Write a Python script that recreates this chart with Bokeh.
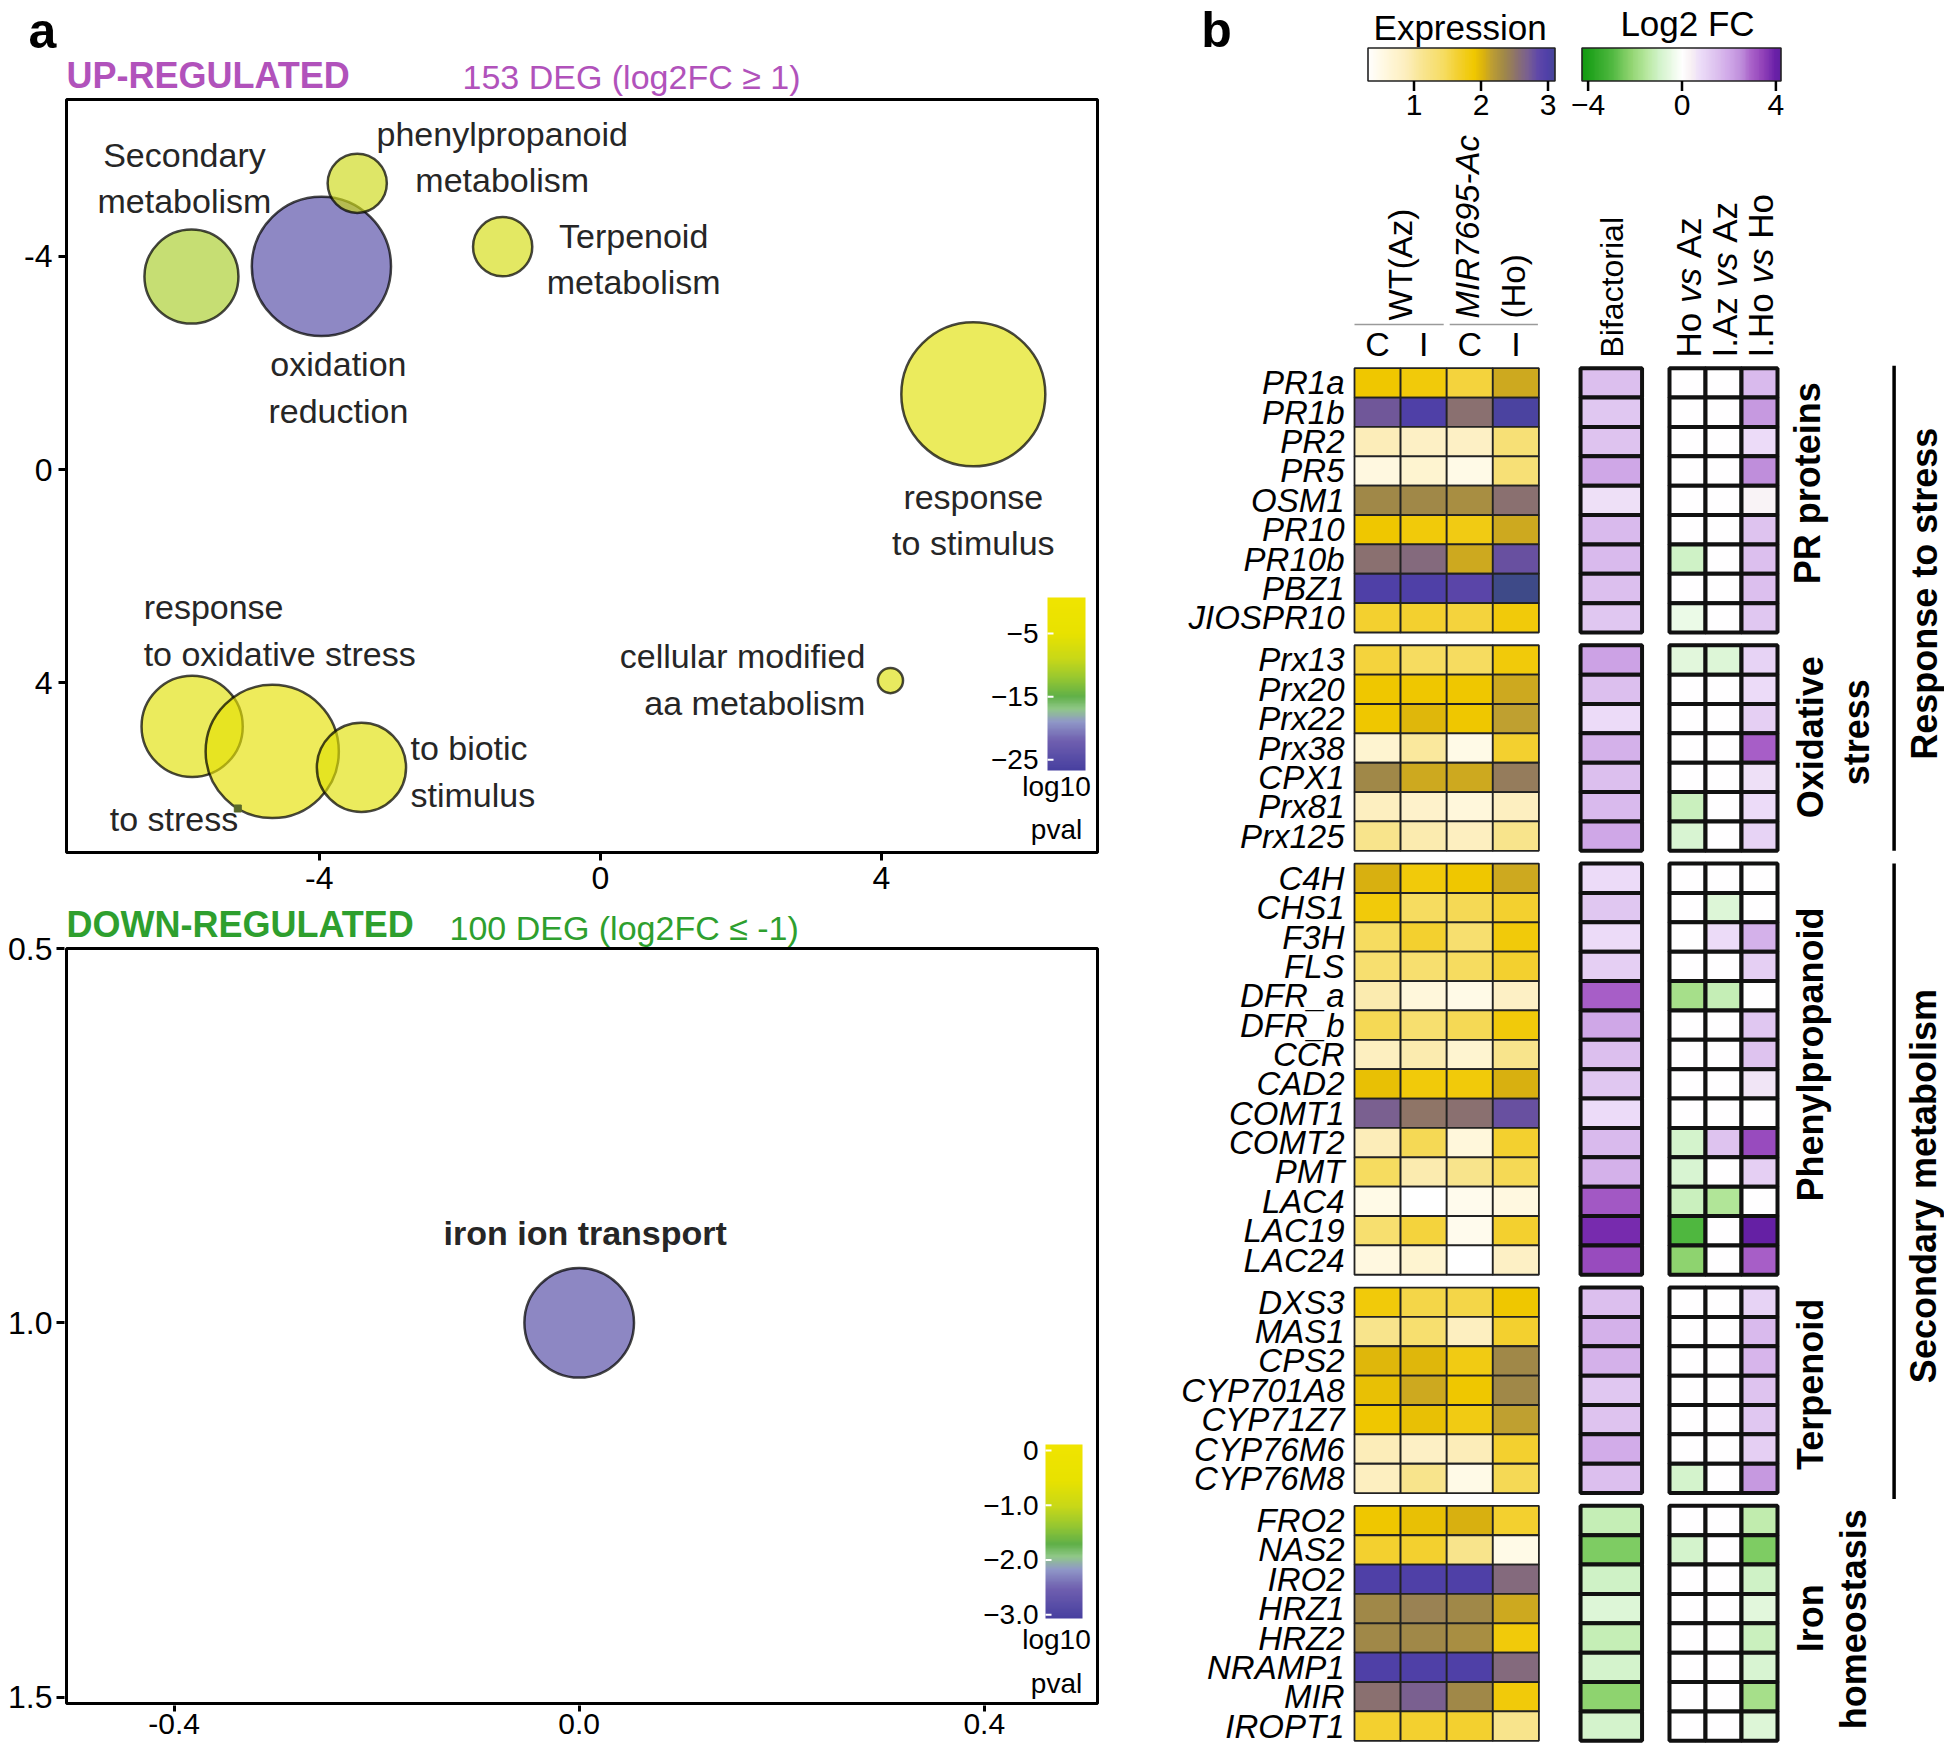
import numpy as np
from bokeh.plotting import figure
from bokeh.layouts import row, column
from bokeh.models import Range1d, FactorRange, FixedTicker, ColumnDataSource, LinearColorMapper
from bokeh.core.properties import value
from bokeh.embed import file_html
from bokeh.resources import INLINE

FONT = "Liberation Sans"
FV = value(FONT)
PI2 = np.pi / 2

# ======================= DATA =======================
# Panel a, up-regulated GO terms (REVIGO semantic space)
up_terms = ["Secondary\nmetabolism", "oxidation\nreduction", "phenylpropanoid\nmetabolism",
            "Terpenoid\nmetabolism", "response\nto stimulus", "cellular modified\naa metabolism",
            "response\nto oxidative stress", "to stress", "to biotic\nstimulus"]
up_x = [-5.82, -3.97, -3.46, -1.39, 5.31, 4.13, -5.81, -4.67, -3.40]
up_y = [-3.62, -3.81, -5.37, -4.18, -1.41, 3.96, 4.82, 5.29, 5.59]
up_log_size = [2.35, 3.48, 1.48, 1.48, 3.60, 0.63, 2.53, 3.33, 2.23]
up_log10_pval = [-11.0, -25.5, -8.5, -7.5, -6.0, -6.5, -6.0, -5.5, -6.0]
minor_x = [-5.16]
minor_y = [6.36]

# Panel a, down-regulated GO terms
down_terms = ["iron ion transport"]
down_x = [0.0]
down_y = [1.0]
down_log_size = [2.74]
down_log10_pval = [-2.95]

up_ticks = [-4, 0, 4]
up_tick_labels = ["-4", "0", "4"]
down_x_ticks = [-0.4, 0.0, 0.4]
down_x_labels = ["-0.4", "0.0", "0.4"]
down_y_ticks = [0.5, 1.0, 1.5]
down_y_labels = ["0.5", "1.0", "1.5"]
up_cb_ticks = [-5, -15, -25]
up_cb_labels = ["\u22125", "\u221215", "\u221225"]
down_cb_ticks = [0, -1, -2, -3]
down_cb_labels = ["0", "\u22121.0", "\u22122.0", "\u22123.0"]

# Panel b, heatmap
groups = ["PR proteins"] * 9 + ["Oxidative stress"] * 7 + ["Phenylpropanoid"] * 14 + \
         ["Terpenoid"] * 7 + ["Iron homeostasis"] * 8
genes = ["PR1a", "PR1b", "PR2", "PR5", "OSM1", "PR10", "PR10b", "PBZ1", "JIOSPR10",
         "Prx13", "Prx20", "Prx22", "Prx38", "CPX1", "Prx81", "Prx125",
         "C4H", "CHS1", "F3H", "FLS", "DFR_a", "DFR_b", "CCR", "CAD2", "COMT1", "COMT2", "PMT",
         "LAC4", "LAC19", "LAC24",
         "DXS3", "MAS1", "CPS2", "CYP701A8", "CYP71Z7", "CYP76M6", "CYP76M8",
         "FRO2", "NAS2", "IRO2", "HRZ1", "HRZ2", "NRAMP1", "MIR", "IROPT1"]
expr_C_Az = [1.9, 2.75, 0.9, 0.55, 2.35, 1.9, 2.55, 3.0, 1.65,
             1.6, 1.9, 1.9, 0.7, 2.35, 0.85, 1.15,
             2.05, 1.85, 1.45, 1.35, 0.95, 1.5, 0.85, 1.95, 2.7, 0.9, 1.45, 0.5, 1.35, 0.55,
             1.85, 1.15, 2.0, 1.95, 1.9, 0.9, 0.85,
             1.9, 1.65, 3.0, 2.35, 2.35, 3.0, 2.55, 1.65]
expr_I_Az = [1.85, 3.0, 0.8, 0.7, 2.35, 1.85, 2.6, 3.0, 1.65,
             1.45, 1.9, 2.0, 1.05, 2.1, 0.75, 0.95,
             1.85, 1.45, 1.65, 1.35, 0.6, 1.35, 0.95, 1.85, 2.5, 1.5, 0.95, 0.3, 1.6, 0.7,
             1.55, 1.35, 2.0, 2.1, 1.95, 0.8, 1.15,
             1.95, 1.65, 3.0, 2.4, 2.35, 3.0, 2.7, 1.65]
expr_C_Ho = [1.6, 2.55, 0.8, 0.5, 2.3, 1.8, 2.1, 2.9, 1.6,
             1.45, 1.9, 1.9, 0.5, 2.1, 0.6, 0.85,
             1.9, 1.5, 1.35, 1.45, 0.5, 1.5, 0.7, 1.85, 2.55, 0.6, 1.15, 0.45, 0.45, 0.3,
             1.55, 0.85, 1.8, 1.9, 1.8, 0.9, 0.5,
             2.05, 1.15, 3.0, 2.35, 2.3, 3.0, 2.35, 1.65]
expr_I_Ho = [2.1, 3.05, 1.3, 1.3, 2.55, 2.1, 2.8, 3.2, 1.85,
             1.85, 2.1, 2.15, 1.65, 2.45, 0.85, 1.15,
             2.1, 1.65, 1.85, 1.65, 0.8, 1.85, 1.15, 2.05, 2.8, 1.65, 1.5, 0.55, 1.65, 0.8,
             1.9, 1.65, 2.35, 2.35, 2.15, 1.65, 1.5,
             1.65, 0.5, 2.6, 2.1, 1.85, 2.6, 1.85, 1.15]
fc_bifactorial = [1.5, 1.3, 1.4, 2.0, 0.7, 1.6, 1.6, 1.5, 1.3,
                  2.1, 1.5, 0.8, 1.8, 1.5, 1.6, 2.0,
                  0.8, 1.3, 0.8, 1.1, 3.0, 2.0, 1.5, 1.3, 0.8, 1.6, 1.8, 3.1, 3.8, 3.3,
                  1.5, 1.8, 1.8, 1.3, 1.4, 1.9, 1.5,
                  -1.2, -2.4, -1.0, -0.7, -1.2, -0.9, -2.2, -0.9]
fc_Ho_vs_Az = [0, 0, 0, 0, 0, 0, -1.0, 0, -0.4,
               -0.6, 0, 0, 0, 0, -1.1, -0.8,
               0, 0, 0, 0, -1.8, 0, 0, 0, 0, -0.9, -0.8, -1.1, -3.0, -2.2,
               0, 0, 0, 0, 0, 0, -0.9,
               0, -0.9, 0, 0, 0, 0, 0, 0]
fc_IAz_vs_Az = [0, 0, 0, 0, 0, 0, 0, 0, 0,
                -0.7, 0, 0, 0, 0, 0, 0,
                0, -0.7, 0.8, 0, -1.2, 0, 0, 0, 0, 1.4, 0, -1.6, 0, 0,
                0, 0, 0, 0, 0, 0, 0,
                0, 0, 0, 0, 0, 0, 0, 0]
fc_IHo_vs_Ho = [1.6, 2.3, 0.8, 2.5, 0.3, 1.4, 1.5, 1.5, 1.3,
                1.0, 0.8, 1.1, 3.0, 0.7, 0.8, 1.0,
                0, 0, 1.8, 1.1, 0, 1.3, 1.4, 0.6, 0, 3.3, 1.1, 0, 4.1, 3.0,
                1.0, 1.6, 1.7, 1.4, 1.3, 1.1, 2.3,
                -1.3, -2.4, -1.0, -0.6, -1.1, -0.8, -1.8, -0.7]
expr_ticks = [1, 2, 3]
fc_ticks = [-4, 0, 4]
fc_tick_labels = ["\u22124", "0", "4"]

# ======================= COLOUR SCALES =======================
def hex2rgb(h):
    h = h.lstrip("#")
    return [int(h[i:i + 2], 16) for i in (0, 2, 4)]


def build_palette(vals, cols, lo, hi, n=256):
    rgb = np.array([hex2rgb(c) for c in cols], float)
    out = []
    for v in np.linspace(lo, hi, n):
        r, g, b = (np.interp(v, vals, rgb[:, k]) for k in range(3))
        out.append("#%02x%02x%02x" % (int(round(r)), int(round(g)), int(round(b))))
    return out


PV_FR = [0.0, 0.1715, 0.281, 0.354, 0.427, 0.5365, 0.646, 0.792, 1.0]
PV_COL = ["#4840a0", "#7060b0", "#9098c8", "#90c888", "#60b048", "#98c830", "#c8d818", "#e8e200", "#f0e400"]

UP_VMIN, UP_VMAX = -26.7, 0.7
DN_VMIN, DN_VMAX = -3.07, 0.11
up_mapper = LinearColorMapper(palette=build_palette(PV_FR, PV_COL, 0, 1), low=UP_VMIN, high=UP_VMAX)
dn_mapper = LinearColorMapper(palette=build_palette(PV_FR, PV_COL, 0, 1), low=DN_VMIN, high=DN_VMAX)

EX_V = [0.30, 0.55, 0.85, 1.15, 1.45, 1.65, 1.90, 2.05, 2.15, 2.35, 2.55, 2.70, 2.85, 3.00, 3.20]
EX_C = ["#ffffff", "#fff8e0", "#fdefc0", "#f8e48c", "#f6dc60", "#f3d030", "#f0c800", "#d8b010",
        "#c0a030", "#a08848", "#8a7070", "#7a6090", "#6048a8", "#5040a8", "#3e4a88"]
expr_mapper = LinearColorMapper(palette=build_palette(EX_V, EX_C, 0.3, 3.2), low=0.3, high=3.2)

FC_V = [-4.26, -3.0, -2.2, -1.5, -1.0, -0.4, 0.0, 0.4, 0.8, 1.5, 2.0, 2.5, 3.0, 3.5, 4.0, 4.26]
FC_C = ["#109a10", "#50b840", "#90d470", "#b8e8a0", "#d0f2c8", "#ecfae8", "#ffffff", "#f8f0f4",
        "#ecdcf8", "#dcc0ee", "#d0a8e8", "#c090dc", "#a860c8", "#9040b8", "#6a20a8", "#6020a0"]
fc_mapper = LinearColorMapper(palette=build_palette(FC_V, FC_C, -4.26, 4.26), low=-4.26, high=4.26)

# ======================= helpers =======================
def blank_fig(w, h, x0, x1, y_top, y_bot):
    f = figure(width=w, height=h, x_range=Range1d(x0, x1), y_range=Range1d(y_bot, y_top),
               output_backend="svg", toolbar_location=None, min_border=0,
               x_axis_type=None, y_axis_type=None)
    f.outline_line_color = None
    f.grid.visible = False
    f.frame_align = False
    return f


def style_axes(p, xt, xl, yt, yl, xfs, yfs, tick_out, standoff):
    p.frame_align = False
    p.xaxis.ticker = FixedTicker(ticks=xt)
    p.xaxis.major_label_overrides = dict(zip(xt, xl))
    p.yaxis.ticker = FixedTicker(ticks=yt)
    p.yaxis.major_label_overrides = dict(zip(yt, yl))
    for ax, fs in ((p.xaxis, xfs), (p.yaxis, yfs)):
        ax.axis_line_color = None
        ax.major_tick_line_width = 3
        ax.major_tick_line_color = "black"
        ax.major_tick_out = tick_out
        ax.major_tick_in = 0
        ax.minor_tick_line_color = None
        ax.major_label_text_font = FONT
        ax.major_label_text_font_size = fs
        ax.major_label_text_color = "black"
        ax.major_label_standoff = standoff
    p.grid.visible = False
    p.outline_line_color = "black"
    p.outline_line_width = 3


def vertical_colorbar(p, mapper, vmin, vmax, fw, fh, top_px, bot_px, x0_px, x1_px,
                      ticks, labels, lab_right_px, title_cx, title_cy_px):
    per = (vmax - vmin) / (bot_px - top_px)
    p.extra_y_ranges = {"cb": Range1d(start=vmin - (fh - bot_px) * per, end=vmax + top_px * per)}
    p.extra_x_ranges = {"cbx": Range1d(start=0, end=fw)}
    vals = np.linspace(vmin, vmax, 200)
    p.image(image=[vals.reshape(-1, 1)], x=x0_px, y=vmin, dw=x1_px - x0_px, dh=vmax - vmin,
            color_mapper=mapper, x_range_name="cbx", y_range_name="cb")
    p.segment(x0=x0_px, x1=x0_px + 6, y0=ticks, y1=ticks, line_color="white", line_width=2,
              x_range_name="cbx", y_range_name="cb")
    p.text(x=lab_right_px, y=ticks, text=labels, text_align="right", text_baseline="middle",
           text_font=FV, text_font_size="28px", text_color="black",
           x_range_name="cbx", y_range_name="cb")
    p.text(x=[title_cx], y=[vmax - (title_cy_px - top_px) * per], text=["log10\npval"],
           text_align="center", text_baseline="middle", text_line_height=1.4,
           text_font=FV, text_font_size="28px", text_color="black",
           x_range_name="cbx", y_range_name="cb")


# ======================= PANEL A titles (top) =======================
LW = 1102
t1 = blank_fig(LW, 96, 0, LW, 0, 96)
t1.text(x=[42], y=[30], text=["a"], text_align="center", text_baseline="middle",
        text_font=FV, text_font_size="50px", text_font_style="bold", text_color="black")
t1.text(x=[66], y=[74.6], text=["UP-REGULATED"], text_align="left", text_baseline="middle",
        text_font=FV, text_font_size="36px", text_font_style="bold", text_color="#b152bb")
t1.text(x=[462], y=[76], text=["153 DEG (log2FC \u2265 1)"], text_align="left",
        text_baseline="middle", text_font=FV, text_font_size="34px", text_color="#b152bb")

# ======================= PANEL A (top) =======================
# calibration: x 0 at px 599.8, 70.25 px/unit ; y 0 at px 469, 53.3 px/unit
def ax_x(px):
    return (px - 599.8) / 70.25


def ax_y(py):
    return (py - 469.0) / 53.3


p1 = figure(width=LW, height=808, x_range=Range1d(ax_x(66), ax_x(1097)),
            y_range=Range1d(ax_y(852), ax_y(99)), output_backend="svg", toolbar_location=None,
            min_border_left=66, min_border_right=5, min_border_top=3, min_border_bottom=52)
style_axes(p1, up_ticks, up_tick_labels, up_ticks, up_tick_labels, "32px", "32px", 8, 6)

src_up = ColumnDataSource(dict(x=up_x, y=up_y, d=[40 * s for s in up_log_size], pv=up_log10_pval))
p1.scatter("x", "y", size="d", source=src_up, fill_color={"field": "pv", "transform": up_mapper},
           fill_alpha=0.65, line_color="black", line_alpha=0.72, line_width=2.5)
p1.scatter(minor_x, minor_y, marker="square", size=7, color="#5a6a2a")

up_dx = [-7, 17, 145, 131, 0, -25, -48.5, -162.5, 49]
up_dy = [-98.5, 121, -26, 12, 125.5, -1, -96, 68, 4]
up_al = ["center", "center", "center", "center", "center", "right", "left", "left", "left"]
for al in ("center", "right", "left"):
    idx = [i for i, a in enumerate(up_al) if a == al]
    p1.text(x=[up_x[i] for i in idx], y=[up_y[i] for i in idx], text=[up_terms[i] for i in idx],
            x_offset=[up_dx[i] for i in idx], y_offset=[up_dy[i] for i in idx],
            text_align=al, text_baseline="middle", text_line_height=1.22,
            text_font=FV, text_font_size="34px", text_color="#262626")

vertical_colorbar(p1, up_mapper, UP_VMIN, UP_VMAX, 1031, 753, 498, 671, 981, 1019,
                  up_cb_ticks, up_cb_labels, 972, 990, 708.5)

# ======================= PANEL A (bottom, titles inside the extended frame) =======================
def bx(px):
    return (px - 578.7) / 1012.7


def by(py):
    return 0.5 + (py - 948.0) / 748.7


P2_TOP, P2_FB, P2_L, P2_R = 904, 1705, 64, 1099
p2 = figure(width=LW, height=841, x_range=Range1d(bx(P2_L), bx(P2_R)),
            y_range=Range1d(by(P2_FB), by(P2_TOP)), output_backend="svg", toolbar_location=None,
            min_border_left=P2_L, min_border_right=LW - P2_R, min_border_top=0, min_border_bottom=40)
style_axes(p2, down_x_ticks, down_x_labels, down_y_ticks, down_y_labels, "30px", "32px", 6, 2)
p2.yaxis.major_tick_out = 8
p2.yaxis.major_label_standoff = 4
p2.outline_line_color = None
# axes box of the down-regulated panel
p2.rect(x=[(bx(66) + bx(1097)) / 2], y=[(by(948) + by(1703)) / 2], width=bx(1097) - bx(66),
        height=by(1703) - by(948), fill_color=None, line_color="black", line_width=3)

src_dn = ColumnDataSource(dict(x=down_x, y=down_y, d=[40 * s for s in down_log_size], pv=down_log10_pval))
p2.scatter("x", "y", size="d", source=src_dn, fill_color={"field": "pv", "transform": dn_mapper},
           fill_alpha=0.65, line_color="black", line_alpha=0.72, line_width=2.5)
p2.text(x=down_x, y=down_y, text=down_terms, x_offset=6, y_offset=-90, text_align="center",
        text_baseline="middle", text_font=FV, text_font_size="34px", text_font_style="bold",
        text_color="#262626")
vertical_colorbar(p2, dn_mapper, DN_VMIN, DN_VMAX, P2_R - P2_L, P2_FB - P2_TOP,
                  1444 - P2_TOP, 1618 - P2_TOP, 1045 - P2_L, 1082 - P2_L,
                  down_cb_ticks, down_cb_labels, 1038 - P2_L, 1056 - P2_L, 1661 - P2_TOP)
p2.text(x=[bx(66)], y=[by(924)], text=["DOWN-REGULATED"], text_align="left", text_baseline="middle",
        text_font=FV, text_font_size="36px", text_font_style="bold", text_color="#2e9f2e")
p2.text(x=[bx(449)], y=[by(927)], text=["100 DEG (log2FC \u2264 -1)"], text_align="left",
        text_baseline="middle", text_font=FV, text_font_size="34px", text_color="#2e9f2e")

# ======================= PANEL B =======================
PB_X0, PB_X1 = 1102, 1944
HDR_H, HEAT_H = 363, 1382
EXPR_X0, EXPR_W = 1354.0, 46.1
BIF_XC, BIF_W = 1610.8, 61.5
CMP_X0, CMP_W = 1669.0, 36.0
GP, PAD = 0.435, 0.16

# ---- header ----
hdr = blank_fig(PB_X1 - PB_X0, HDR_H, PB_X0, PB_X1, 0, HDR_H)

EX_T1, EX_T3 = 1413.5, 1547.5
ex_pp = (EX_T3 - EX_T1) / 2.0
FC_T0, FC_T1 = 1587.6, 1775.4
fc_pp = (FC_T1 - FC_T0) / 8.0
hdr.extra_x_ranges = {
    "expr": Range1d(1 - (EX_T1 - PB_X0) / ex_pp, 1 + (PB_X1 - EX_T1) / ex_pp),
    "fc": Range1d(-4 - (FC_T0 - PB_X0) / fc_pp, -4 + (PB_X1 - FC_T0) / fc_pp),
}
BAR_Y, BAR_H = 64.0, 33.0
for rname, mapper, lo, hi, ticks, labels in (
        ("expr", expr_mapper, 1 + (1367.5 - EX_T1) / ex_pp, 1 + (1554.5 - EX_T1) / ex_pp,
         expr_ticks, [str(t) for t in expr_ticks]),
        ("fc", fc_mapper, -4 + (1581.5 - FC_T0) / fc_pp, -4 + (1780.5 - FC_T0) / fc_pp,
         fc_ticks, fc_tick_labels)):
    vals = np.linspace(lo, hi, 240)
    hdr.image(image=[vals.reshape(1, -1)], x=lo, y=BAR_Y - BAR_H / 2, dw=hi - lo, dh=BAR_H,
              color_mapper=mapper, x_range_name=rname)
    hdr.rect(x=[(lo + hi) / 2], y=[BAR_Y], width=hi - lo, height=BAR_H, fill_color=None,
             line_color="#222222", line_width=1.6, x_range_name=rname)
    hdr.segment(x0=ticks, x1=ticks, y0=BAR_Y + BAR_H / 2, y1=BAR_Y + BAR_H / 2 + 10,
                line_color="black", line_width=2.5, x_range_name=rname)
    hdr.text(x=ticks, y=104, text=labels, text_align="center", text_baseline="middle",
             text_font=FV, text_font_size="30px", text_color="black", x_range_name=rname)

hdr.text(x=[1216], y=[29], text=["b"], text_align="center", text_baseline="middle",
         text_font=FV, text_font_size="50px", text_font_style="bold", text_color="black")
hdr.text(x=[1459.6, 1687], y=[26.7, 22.7], text=["Expression", "Log2 FC"], text_align="center",
         text_baseline="middle", text_font=FV, text_font_size="35px", text_color="black")

expr_cols = ["C", "I", "C", "I"]
ex_xc = [EXPR_X0 + EXPR_W * (j + 0.5) for j in range(4)]
hdr.text(x=ex_xc, y=343.5, text=expr_cols, text_align="center", text_baseline="middle",
         text_font=FV, text_font_size="34px", text_color="black")
hdr.segment(x0=[EXPR_X0, EXPR_X0 + 2 * EXPR_W + 3], x1=[EXPR_X0 + 2 * EXPR_W - 3, EXPR_X0 + 4 * EXPR_W - 1],
            y0=324, y1=324, line_color="#9a9a9a", line_width=1.6)
hdr.text(x=[(ex_xc[0] + ex_xc[1]) / 2], y=[320], text=["WT(Az)"], angle=PI2, text_align="left",
         text_baseline="middle", text_font=FV, text_font_size="33px", text_color="black")
hdr.text(x=[1467], y=[318], text=["MIR7695-Ac"], angle=PI2, text_align="left",
         text_baseline="middle", text_font=FV, text_font_size="33px", text_font_style="italic",
         text_color="black")
hdr.text(x=[1513], y=[318], text=["(Ho)"], angle=PI2, text_align="left",
         text_baseline="middle", text_font=FV, text_font_size="33px", text_color="black")
hdr.text(x=[BIF_XC + 1], y=[357], text=["Bifactorial"], angle=PI2, text_align="left",
         text_baseline="middle", text_font=FV, text_font_size="32px", text_color="black")

CW = {"H": .722, "o": .556, " ": .278, "v": .5, "s": .5, "A": .667, "z": .5, "I": .278, ".": .278}


def tw(s, fs):
    return sum(CW[c] for c in s) * fs


cmp_pieces = [("Ho", "vs", "Az"), ("I.Az", "vs", "Az"), ("I.Ho", "vs", "Ho")]
CFS = 35
for j, pieces in enumerate(cmp_pieces):
    xc = CMP_X0 + CMP_W * (j + 0.5) + 1
    yy = 357.0
    for k, piece in enumerate(pieces):
        hdr.text(x=[xc], y=[yy], text=[piece], angle=PI2, text_align="left", text_baseline="middle",
                 text_font=FV, text_font_size="%dpx" % CFS, text_color="black",
                 text_font_style="italic" if k == 1 else "normal")
        yy -= tw(piece, CFS) + tw(" ", CFS)

# ---- heatmap ----
factors = list(zip(groups, genes))
heat = figure(width=PB_X1 - PB_X0, height=HEAT_H, x_range=Range1d(PB_X0, PB_X1),
              y_range=FactorRange(factors=factors[::-1], group_padding=GP, range_padding=PAD,
                                  range_padding_units="absolute"),
              output_backend="svg", toolbar_location=None, min_border=0,
              x_axis_type=None, y_axis_type=None)
heat.outline_line_color = None
heat.grid.visible = False
heat.frame_align = False

ex_cells = dict(x=[], y=[], v=[])
for j, col in enumerate([expr_C_Az, expr_I_Az, expr_C_Ho, expr_I_Ho]):
    for f, v in zip(factors, col):
        ex_cells["x"].append(ex_xc[j])
        ex_cells["y"].append(f)
        ex_cells["v"].append(v)
heat.rect(x="x", y="y", width=EXPR_W, height=1, source=ColumnDataSource(ex_cells),
          fill_color={"field": "v", "transform": expr_mapper}, line_color="#222222", line_width=1.8)

fc_cells = dict(x=[], y=[], v=[], w=[])
for f, v in zip(factors, fc_bifactorial):
    fc_cells["x"].append(BIF_XC)
    fc_cells["y"].append(f)
    fc_cells["v"].append(v)
    fc_cells["w"].append(BIF_W)
for j, col in enumerate([fc_Ho_vs_Az, fc_IAz_vs_Az, fc_IHo_vs_Ho]):
    for f, v in zip(factors, col):
        fc_cells["x"].append(CMP_X0 + CMP_W * (j + 0.5))
        fc_cells["y"].append(f)
        fc_cells["v"].append(v)
        fc_cells["w"].append(CMP_W)
heat.rect(x="x", y="y", width="w", height=1, source=ColumnDataSource(fc_cells),
          fill_color={"field": "v", "transform": fc_mapper}, line_color="#111111", line_width=4)

heat.text(x=1344, y=factors, text=genes, text_align="right", text_baseline="middle",
          text_font=FV, text_font_size="33px", text_font_style="italic", text_color="black")

side_text = ["PR proteins", "Oxidative", "stress", "Phenylpropanoid", "Terpenoid", "Iron", "homeostasis"]
side_x = [1807, 1810, 1855.6, 1810, 1810, 1810, 1853]
side_y = [("PR proteins", "OSM1", 0.58), ("Oxidative stress", "Prx38", 0.37),
          ("Oxidative stress", "Prx38", 0.54), ("Phenylpropanoid", "CCR", 0.0),
          ("Terpenoid", "CYP701A8", 0.2), ("Iron homeostasis", "HRZ1", -0.33),
          ("Iron homeostasis", "HRZ1", -0.36)]
heat.text(x=side_x, y=side_y, text=side_text, angle=PI2, text_align="center", text_baseline="middle",
          text_font=FV, text_font_size="36px", text_font_style="bold", text_color="black")
heat.text(x=[1924, 1923], y=[("PR proteins", "JIOSPR10", 0.82), ("Phenylpropanoid", "PMT", -0.48)],
          text=["Response to stress", "Secondary metabolism"], angle=PI2, text_align="center",
          text_baseline="middle", text_font=FV, text_font_size="36px", text_font_style="bold",
          text_color="black")
heat.segment(x0=[1893.6, 1893.6], x1=[1893.6, 1893.6],
             y0=[("PR proteins", "PR1a", 0.58), ("Phenylpropanoid", "C4H", 0.5)],
             y1=[("Oxidative stress", "Prx125", -0.5), ("Terpenoid", "CYP76M8", -0.7)],
             line_color="black", line_width=3.5)

layout = row(column(t1, p1, p2), column(hdr, heat))
open("out.html", "w").write(file_html(layout, INLINE))
